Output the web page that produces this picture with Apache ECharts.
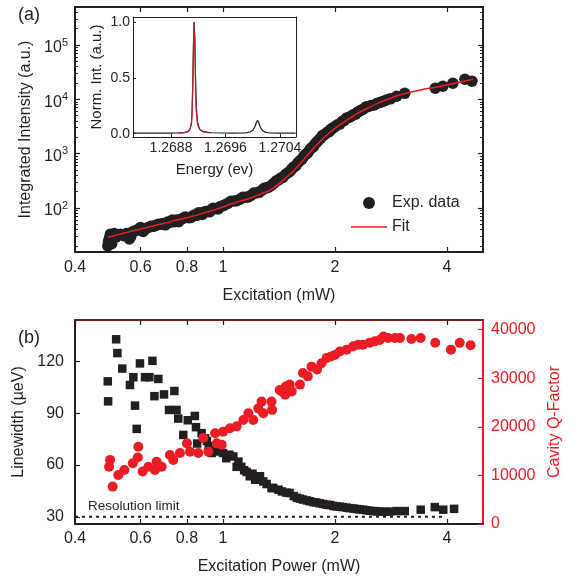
<!DOCTYPE html>
<html><head><meta charset="utf-8">
<script src="https://cdn.jsdelivr.net/npm/echarts@6/dist/echarts.min.js"></script>
<style>html,body{margin:0;padding:0;background:#fff}#c{width:574px;height:584px}</style>
</head><body><div id="c"></div>
<script>
// ---------- data ----------
// (a) integrated intensity vs excitation power [mW, a.u.]
const expData = [[0.490,20],[0.492,24],[0.495,28],[0.498,33],[0.502,22],[0.505,30],[0.510,34],[0.515,29],[0.520,32],[0.530,33],[0.540,31],[0.550,34],[0.560,27],[0.565,30],[0.570,36],[0.580,38],[0.590,40],[0.600,44],[0.610,37],[0.620,42],[0.630,44],[0.640,46],[0.650,46],[0.660,48],[0.670,50],[0.680,50],[0.690,52],[0.700,49],[0.710,55],[0.720,54],[0.730,60],[0.740,56],[0.750,60],[0.760,56],[0.770,62],[0.780,64],[0.790,68],[0.800,67],[0.810,66],[0.820,67],[0.830,72],[0.840,74],[0.850,73],[0.860,82],[0.870,80],[0.880,76],[0.890,84],[0.900,86],[0.920,85],[0.930,93],[0.940,99],[0.950,98],[0.970,96],[0.980,105],[1.000,110],[1.010,114],[1.030,122],[1.050,133],[1.070,135],[1.090,136],[1.110,145],[1.130,157],[1.150,158],[1.170,160],[1.190,172],[1.210,188],[1.230,190],[1.250,194],[1.270,210],[1.290,230],[1.310,235],[1.330,243],[1.350,262],[1.370,285],[1.390,315],[1.410,330],[1.430,355],[1.450,370],[1.470,410],[1.490,440],[1.510,465],[1.530,520],[1.550,570],[1.570,600],[1.590,680],[1.610,740],[1.630,790],[1.650,900],[1.670,980],[1.690,1040],[1.710,1180],[1.730,1280],[1.750,1350],[1.770,1520],[1.790,1650],[1.810,1780],[1.830,1920],[1.850,2150],[1.870,2200],[1.890,2350],[1.910,2500],[1.930,2550],[1.950,2800],[1.970,2950],[2.000,3150],[2.030,3400],[2.060,3500],[2.090,3900],[2.120,4100],[2.150,4550],[2.180,4650],[2.210,4900],[2.240,5200],[2.270,5300],[2.300,5800],[2.340,6200],[2.380,6600],[2.420,7200],[2.460,7400],[2.500,7700],[2.550,7900],[2.600,8500],[2.650,8800],[2.700,9200],[2.750,9700],[2.820,10200],[2.930,11400],[3.080,12900],[3.720,16000],[3.900,17400],[4.150,19800],[4.470,23400],[4.670,21600]];
const fitData = [[0.49,29],[0.52,32],[0.555,36],[0.6,41],[0.65,47],[0.7,53],[0.75,60],[0.8,66],[0.85,74],[0.9,83],[0.95,93],[1.0,104],[1.044,117],[1.1,131],[1.182,151],[1.26,180],[1.338,213],[1.42,290],[1.514,421],[1.61,650],[1.714,1057],[1.82,1650],[1.94,2478],[2.05,3300],[2.174,4300],[2.3,5500],[2.48,7200],[2.62,8600],[2.76,9900],[2.9,11300],[3.05,12600],[3.4,14900],[3.76,16900],[4.2,19800],[4.7,23500]];
// inset spectrum [eV, normalized intensity]
const spectrumData = [[1.26824,0.004],[1.2686,0.004],[1.2688,0.005],[1.2689,0.006],[1.269,0.010],[1.26905,0.018],[1.26908,0.04],[1.2691,0.09],[1.26911,0.2],[1.26912,0.45],[1.26913,0.8],[1.26914,1.0],[1.26915,0.82],[1.26916,0.5],[1.26917,0.25],[1.26919,0.1],[1.26922,0.04],[1.26927,0.018],[1.2694,0.008],[1.2697,0.005],[1.2699,0.007],[1.26996,0.015],[1.27,0.03],[1.27003,0.06],[1.27005,0.095],[1.27007,0.12],[1.27009,0.1],[1.27011,0.06],[1.27014,0.03],[1.27018,0.013],[1.27025,0.006],[1.2704,0.004],[1.27063,0.004]];
const spectrumFit = [[1.2689,0.006],[1.269,0.012],[1.26905,0.022],[1.26908,0.045],[1.2691,0.1],[1.26911,0.21],[1.26912,0.46],[1.26913,0.8],[1.26914,1.0],[1.26915,0.8],[1.26916,0.46],[1.26917,0.21],[1.26919,0.09],[1.26922,0.04],[1.26928,0.016],[1.26938,0.007]];
// (b) linewidth [mW, µeV] and Q factor [mW, Q]
const linewidthData = [[0.490,108.6],[0.491,97],[0.516,133],[0.520,125],[0.536,116],[0.562,106.5],[0.574,111],[0.580,94.5],[0.586,81],[0.598,119],[0.617,111],[0.634,111],[0.646,120.5],[0.654,100],[0.670,110],[0.694,101],[0.716,92],[0.740,103],[0.750,92],[0.758,87],[0.782,77.5],[0.804,86],[0.840,88.5],[0.846,82],[0.852,72.5],[0.876,78.5],[0.895,75.5],[0.905,74],[0.915,71],[0.932,67],[0.945,68],[0.962,70],[0.980,68],[1.000,67],[1.020,64],[1.040,66],[1.066,65],[1.088,59],[1.100,62],[1.120,59],[1.140,57],[1.157,56],[1.180,53.5],[1.200,55],[1.220,51.5],[1.240,52],[1.257,53.5],[1.283,50.5],[1.310,49],[1.350,46.7],[1.365,46.7],[1.410,45.7],[1.440,44.7],[1.480,44],[1.510,43.8],[1.550,42],[1.580,41],[1.610,40.5],[1.640,40],[1.680,39.5],[1.710,39],[1.750,38.5],[1.780,38.3],[1.820,37.8],[1.860,37.4],[1.900,37],[1.940,36.8],[1.980,36.3],[2.020,36],[2.060,35.8],[2.100,35.6],[2.150,35.3],[2.190,35],[2.240,34.8],[2.290,34.5],[2.330,34.3],[2.380,34.1],[2.430,33.8],[2.480,33.5],[2.540,33.3],[2.590,33.1],[2.650,33],[2.720,32.9],[2.800,33],[2.930,33.3],[3.080,33.3],[3.400,34.1],[3.710,35.6],[3.910,34.1],[4.180,34.6]];
const qFactorData = [[0.494,11800],[0.497,13200],[0.505,7700],[0.523,10100],[0.543,11100],[0.572,12500],[0.590,13700],[0.592,15900],[0.608,10800],[0.630,11800],[0.656,11100],[0.663,12800],[0.684,11800],[0.720,14200],[0.735,13200],[0.766,14600],[0.800,16600],[0.815,14900],[0.858,14600],[0.885,17700],[0.913,14900],[0.952,18700],[0.962,16600],[0.992,16300],[1.000,19000],[1.044,19700],[1.088,20100],[1.134,21400],[1.170,22800],[1.206,21400],[1.244,23800],[1.270,25200],[1.283,22800],[1.350,25200],[1.355,23500],[1.420,27600],[1.440,27300],[1.470,26600],[1.475,28300],[1.510,28700],[1.530,27300],[1.610,28700],[1.640,31100],[1.690,30400],[1.730,32400],[1.790,31800],[1.840,33100],[1.900,34200],[1.950,34500],[2.000,34800],[2.060,35500],[2.150,35900],[2.240,36600],[2.310,36900],[2.380,36900],[2.480,37300],[2.560,37600],[2.640,37900],[2.700,38600],[2.780,38300],[2.900,38300],[2.990,38300],[3.210,38100],[3.400,38300],[3.720,37300],[4.100,35900],[4.330,37300],[4.630,36800]];
const resolutionLimit = [[0.4,30],[3.95,30]];
// ticks
const powerTicks = [0.4,0.6,0.8,1,2,4];
const intensityTicks = [100,1000,10000,100000];
const intensityMinorTicks = [20,30,40,50,60,70,80,90,200,300,400,500,600,700,800,900,2000,3000,4000,5000,6000,7000,8000,9000,20000,30000,40000,50000,60000,70000,80000,90000,200000,300000,400000];
const energyTicks = [1.2688,1.2696,1.2704];
const normTicks = [0,0.5,1];
const linewidthTicks = [30,60,90,120];
const qTicks = [0,10000,20000,30000,40000];

// ---------- style ----------
const FONT = 'Liberation Sans, Arial, Helvetica, sans-serif';
const INK = '#231f20';
const RED = '#ed1c24';
const MAROON = '#7d1d20';
const fmtPow = v => String(parseFloat(Number(v).toPrecision(3)));
const tx = (o) => Object.assign({fontFamily: FONT, color: INK, fontSize: 16}, o || {});

function axisBase(o) {
  return Object.assign({
    splitLine: {show: false},
    axisLine: {show: true, onZero: false, lineStyle: {color: INK, width: 2}},
    axisTick: {show: false},
    axisLabel: {show: false},
    nameTextStyle: tx(),
  }, o);
}

const chart = echarts.init(document.getElementById('c'), null, {renderer: 'canvas'});
chart.setOption({
  animation: false,
  backgroundColor: '#fff',
  grid: [
    {left: 75, top: 7, width: 408, height: 245},
    {left: 75, top: 7, width: 408, height: 245},
    {left: 75, top: 320, width: 408, height: 204},
    {left: 133, top: 17, width: 163, height: 120, show: true, backgroundColor: '#fff', borderWidth: 0, z: 5}
  ],
  xAxis: [
    axisBase({gridIndex: 0, type: 'log', position: 'bottom', min: 0.4, max: 5,
      name: 'Excitation (mW)', nameLocation: 'middle', nameGap: 36,
      axisTick: {show: true, inside: true, length: 5, customValues: powerTicks, lineStyle: {color: INK, width: 1.2}},
      axisLabel: {show: true, customValues: powerTicks, formatter: fmtPow, margin: 8, ...tx()}}),
    axisBase({gridIndex: 0, type: 'log', position: 'top', min: 0.4, max: 5,
      axisTick: {show: true, inside: true, length: 5, customValues: powerTicks, lineStyle: {color: INK, width: 1.2}}}),
    axisBase({gridIndex: 1, type: 'log', position: 'bottom', min: 0.4, max: 5, show: false}),
    axisBase({gridIndex: 2, type: 'log', position: 'bottom', min: 0.4, max: 5,
      name: 'Excitation Power (mW)', nameLocation: 'middle', nameGap: 35,
      axisTick: {show: true, inside: true, length: 5, customValues: powerTicks, lineStyle: {color: INK, width: 1.2}},
      axisLabel: {show: true, customValues: powerTicks, formatter: fmtPow, margin: 7, ...tx()}}),
    axisBase({gridIndex: 2, type: 'log', position: 'top', min: 0.4, max: 5,
      axisLine: {show: true, onZero: false, lineStyle: {color: MAROON, width: 2}},
      axisTick: {show: true, inside: true, length: 5, customValues: powerTicks, lineStyle: {color: INK, width: 1.2}}}),
    axisBase({gridIndex: 3, type: 'value', position: 'bottom', min: 1.268242, max: 1.270635, z: 6,
      axisLine: {show: true, onZero: false, lineStyle: {color: INK, width: 1}},
      name: 'Energy (ev)', nameLocation: 'middle', nameGap: 25, nameTextStyle: tx({fontSize: 15}),
      axisTick: {show: true, inside: true, length: 3, customValues: energyTicks, lineStyle: {color: INK, width: 1}},
      axisLabel: {show: true, customValues: energyTicks, formatter: v => Number(v).toFixed(4), margin: 4, ...tx({fontSize: 14})}}),
    axisBase({gridIndex: 3, type: 'value', position: 'top', min: 1.268242, max: 1.270635, z: 6,
      axisLine: {show: true, onZero: false, lineStyle: {color: INK, width: 1}}})
  ],
  yAxis: [
    axisBase({gridIndex: 0, type: 'log', position: 'left', min: 15.5, max: 500000,
      name: 'Integrated Intensity (a.u.)', nameLocation: 'middle', nameGap: 37, nameRotate: 90,
      axisTick: {show: true, inside: true, length: 5, customValues: intensityTicks, lineStyle: {color: INK, width: 1.2}},
      axisLabel: {show: true, customValues: intensityTicks, margin: 7,
        formatter: v => '{b|10}{s|' + Math.round(Math.log10(v)) + '}',
        rich: {b: tx({fontSize: 16, lineHeight: 16, padding: [6, 0, 0, 0]}), s: tx({fontSize: 11, lineHeight: 11, verticalAlign: 'top'})}}}),
    axisBase({gridIndex: 0, type: 'log', position: 'right', min: 15.5, max: 500000,
      axisTick: {show: true, inside: true, length: 5, customValues: intensityTicks, lineStyle: {color: INK, width: 1.2}}}),
    axisBase({gridIndex: 1, type: 'log', position: 'left', min: 15.5, max: 500000,
      axisLine: {show: false},
      axisTick: {show: true, inside: true, length: 3, customValues: intensityMinorTicks, lineStyle: {color: INK, width: 1}}}),
    axisBase({gridIndex: 1, type: 'log', position: 'right', min: 15.5, max: 500000,
      axisLine: {show: false},
      axisTick: {show: true, inside: true, length: 3, customValues: intensityMinorTicks, lineStyle: {color: INK, width: 1}}}),
    axisBase({gridIndex: 2, type: 'value', position: 'left', min: 25.8, max: 144.2,
      name: 'Linewidth (\u00b5eV)', nameLocation: 'middle', nameGap: 40, nameRotate: 90,
      axisTick: {show: true, inside: true, length: 5, customValues: linewidthTicks, lineStyle: {color: INK, width: 1.2}},
      axisLabel: {show: true, customValues: linewidthTicks, margin: 11, ...tx()}}),
    axisBase({gridIndex: 2, type: 'value', position: 'right', min: 0, max: 42000,
      axisLine: {show: true, onZero: false, lineStyle: {color: RED, width: 2}},
      name: 'Cavity Q-Factor', nameLocation: 'middle', nameGap: 60, nameRotate: 90, nameTextStyle: tx({color: RED}),
      axisTick: {show: true, inside: true, length: 5, customValues: qTicks, lineStyle: {color: RED, width: 1.2}},
      axisLabel: {show: true, customValues: qTicks, formatter: v => String(Math.round(v)), margin: 8, ...tx({color: RED})}}),
    axisBase({gridIndex: 3, type: 'value', position: 'left', min: -0.03, max: 1.045, z: 6,
      axisLine: {show: true, onZero: false, lineStyle: {color: INK, width: 1}},
      name: 'Norm. Int. (a.u.)', nameLocation: 'middle', nameGap: 29, nameRotate: 90, nameTextStyle: tx({fontSize: 15}),
      axisTick: {show: true, inside: true, length: 3, customValues: normTicks, lineStyle: {color: INK, width: 1}},
      axisLabel: {show: true, customValues: normTicks, formatter: v => Number(v).toFixed(1), margin: 3, ...tx({fontSize: 14})}}),
    axisBase({gridIndex: 3, type: 'value', position: 'right', min: -0.03, max: 1.045, z: 6,
      axisLine: {show: true, onZero: false, lineStyle: {color: INK, width: 1}}})
  ],
  legend: {
    data: [
      {name: 'Exp. data', icon: 'circle'},
      {name: 'Fit', icon: 'path://M0,0H36V1.6H0Z'}
    ],
    orient: 'vertical', left: 346, top: 190,
    itemWidth: 36, itemHeight: 12, itemGap: 8, selectedMode: false,
    textStyle: tx()
  },
  series: [
    {name: 'Exp. data', type: 'scatter', xAxisIndex: 0, yAxisIndex: 0, data: expData,
      symbol: 'circle', symbolSize: 11.5, itemStyle: {color: INK, opacity: 1}},
    {name: 'Fit', type: 'line', xAxisIndex: 0, yAxisIndex: 0, data: fitData, smooth: 0.4,
      symbol: 'none', showSymbol: false, lineStyle: {color: RED, width: 1.5}, itemStyle: {color: RED}, z: 3},
    {name: 'Resolution', type: 'line', xAxisIndex: 3, yAxisIndex: 4, data: resolutionLimit,
      symbol: 'none', lineStyle: {color: INK, width: 2, type: [3, 4]}},
    {name: 'Linewidth', type: 'scatter', xAxisIndex: 3, yAxisIndex: 4, data: linewidthData,
      symbol: 'rect', symbolSize: 8.5, itemStyle: {color: INK, opacity: 1}},
    {name: 'Q', type: 'scatter', xAxisIndex: 3, yAxisIndex: 5, data: qFactorData,
      symbol: 'circle', symbolSize: 10, itemStyle: {color: RED, opacity: 1}},
    {name: 'Spectrum', type: 'line', xAxisIndex: 5, yAxisIndex: 6, data: spectrumData, z: 7,
      symbol: 'none', lineStyle: {color: INK, width: 1.2}},
    {name: 'SpectrumFit', type: 'line', xAxisIndex: 5, yAxisIndex: 6, data: spectrumFit, z: 8, smooth: 0.2,
      symbol: 'none', lineStyle: {color: '#c8202a', width: 1.3, opacity: 0.85}}
  ],
  graphic: [
    {type: 'text', x: 29, y: 15, style: {text: '(a)', font: '18px ' + FONT, fill: INK, textAlign: 'center', textVerticalAlign: 'middle'}},
    {type: 'text', x: 29, y: 338, style: {text: '(b)', font: '18px ' + FONT, fill: INK, textAlign: 'center', textVerticalAlign: 'middle'}},
    {type: 'text', x: 88, y: 506.5, style: {text: 'Resolution limit', font: '13.5px ' + FONT, fill: INK, textAlign: 'left', textVerticalAlign: 'middle'}}
  ]
});
</script></body></html>
